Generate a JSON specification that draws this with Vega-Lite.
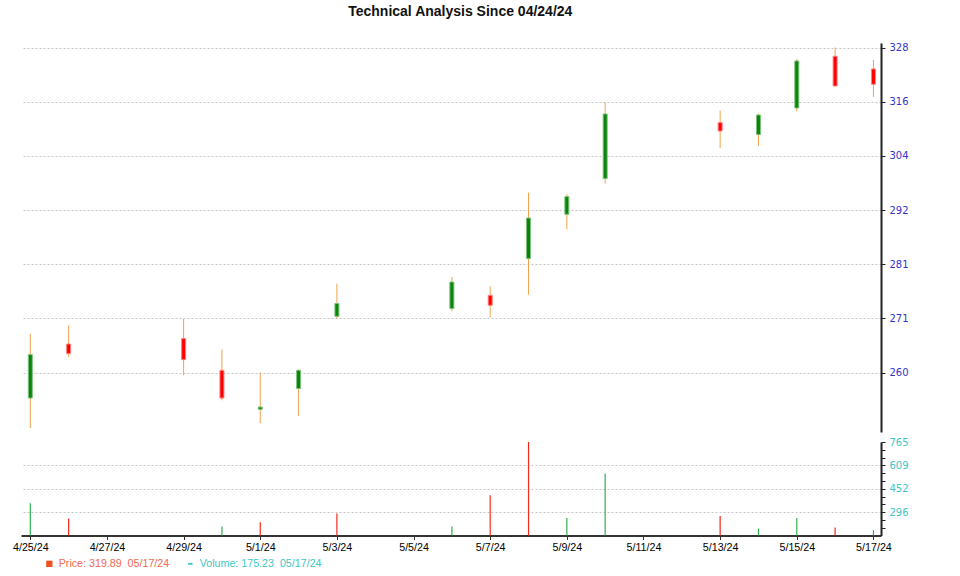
{
  "$schema": "https://vega.github.io/schema/vega-lite/v6.json",
  "padding": {"left": 12, "top": 4, "right": 0, "bottom": 0},
  "background": "white",
  "title": {"text": "Technical Analysis Since 04/24/24", "font": "Liberation Sans", "fontSize": 14, "fontWeight": "bold", "color": "#111111", "anchor": "middle", "offset": 24},
  "datasets": {
    "ohlc": [
      {"date": "2024-04-25", "open": 255.61, "high": 267.66, "low": 250.19, "close": 263.67, "volume": 356, "vdir": "up"},
      {"date": "2024-04-26", "open": 265.68, "high": 269.2, "low": 263.22, "close": 263.86, "volume": 253, "vdir": "down"},
      {"date": "2024-04-29", "open": 266.71, "high": 270.47, "low": 259.8, "close": 262.73, "volume": 140, "vdir": "down"},
      {"date": "2024-04-30", "open": 260.73, "high": 264.62, "low": 255.2, "close": 255.61, "volume": 200, "vdir": "up"},
      {"date": "2024-05-01", "open": 253.56, "high": 260.3, "low": 251.08, "close": 253.98, "volume": 228, "vdir": "down"},
      {"date": "2024-05-02", "open": 257.34, "high": 260.91, "low": 252.35, "close": 260.73, "volume": 140, "vdir": "up"},
      {"date": "2024-05-03", "open": 270.99, "high": 277.4, "low": 270.47, "close": 273.47, "volume": 287, "vdir": "down"},
      {"date": "2024-05-06", "open": 272.49, "high": 278.71, "low": 272.02, "close": 277.72, "volume": 200, "vdir": "up"},
      {"date": "2024-05-07", "open": 275.09, "high": 276.87, "low": 270.74, "close": 273.13, "volume": 409, "vdir": "down"},
      {"date": "2024-05-08", "open": 282.4, "high": 296.05, "low": 275.23, "close": 290.72, "volume": 765, "vdir": "down"},
      {"date": "2024-05-09", "open": 291.49, "high": 295.69, "low": 288.38, "close": 295.21, "volume": 257, "vdir": "up"},
      {"date": "2024-05-10", "open": 299.03, "high": 315.8, "low": 297.97, "close": 313.17, "volume": 555, "vdir": "up"},
      {"date": "2024-05-13", "open": 311.25, "high": 313.93, "low": 305.64, "close": 309.38, "volume": 271, "vdir": "down"},
      {"date": "2024-05-14", "open": 308.59, "high": 313.26, "low": 306.08, "close": 312.94, "volume": 186, "vdir": "up"},
      {"date": "2024-05-15", "open": 314.51, "high": 325.73, "low": 313.77, "close": 325.26, "volume": 257, "vdir": "up"},
      {"date": "2024-05-16", "open": 326.36, "high": 328.4, "low": 319.45, "close": 319.5, "volume": 193, "vdir": "down"},
      {"date": "2024-05-17", "open": 323.41, "high": 325.5, "low": 317.0, "close": 319.89, "volume": 175.23, "vdir": "up"}
    ]
  },
  "spacing": 10,
  "bounds": "flush",
  "vconcat": [
    {
      "width": 860,
      "height": 389,
      "data": {"name": "ohlc"},
      "encoding": {
        "x": {"field": "date", "type": "temporal",
          "scale": {"type": "utc", "padding": 0, "domain": [{"year": 2024, "month": 4, "date": 24, "hours": 18, "minutes": 10, "utc": true}, {"year": 2024, "month": 5, "date": 17, "hours": 4, "minutes": 44, "utc": true}]},
          "axis": null}
      },
      "layer": [
        {
          "mark": {"type": "rule", "color": "#f2a24e", "strokeWidth": 1},
          "encoding": {
            "y": {"field": "low", "type": "quantitative",
              "scale": {"type": "log", "domain": [249.48, 329.47], "nice": false, "zero": false},
              "axis": {"orient": "right", "title": null, "values": [260.3, 270.58, 281.27, 292.38, 303.93, 315.94, 328.4], "format": ".0f",
                "grid": true, "gridDash": [2, 2], "gridColor": "#c4c4c4", "gridWidth": 1,
                "domainColor": "#222222", "domainWidth": 2, "tickColor": "#222222", "tickSize": 4, "tickWidth": 1,
                "labelColor": "#3333cc", "labelFont": "DejaVu Sans", "labelFontSize": 10, "labelPadding": 4, "labelOverlap": false}},
            "y2": {"field": "high"}
          }
        },
        {
          "mark": {"type": "bar", "width": 4, "strokeWidth": 1},
          "encoding": {
            "y": {"field": "open", "type": "quantitative", "axis": {"title": null}},
            "y2": {"field": "close"},
            "fill": {"condition": {"test": "datum.close >= datum.open", "value": "#0a840a"}, "value": "#ff0000"},
            "stroke": {"condition": {"test": "datum.close >= datum.open", "value": "#7cc27c"}, "value": "#ff8080"}
          }
        }
      ]
    },
    {
      "width": 860,
      "height": 93.5,
      "layer": [
        {
          "data": {"name": "ohlc"},
          "mark": {"type": "rule", "strokeWidth": 1.2},
          "encoding": {
            "x": {"field": "date", "type": "temporal",
              "scale": {"type": "utc", "padding": 0, "domain": [{"year": 2024, "month": 4, "date": 24, "hours": 18, "minutes": 10, "utc": true}, {"year": 2024, "month": 5, "date": 17, "hours": 4, "minutes": 44, "utc": true}]},
              "axis": {"title": null, "format": "%-m/%-d/%y", "grid": false,
                "values": [
                  {"year": 2024, "month": 4, "date": 25, "utc": true},
                  {"year": 2024, "month": 4, "date": 27, "utc": true},
                  {"year": 2024, "month": 4, "date": 29, "utc": true},
                  {"year": 2024, "month": 5, "date": 1, "utc": true},
                  {"year": 2024, "month": 5, "date": 3, "utc": true},
                  {"year": 2024, "month": 5, "date": 5, "utc": true},
                  {"year": 2024, "month": 5, "date": 7, "utc": true},
                  {"year": 2024, "month": 5, "date": 9, "utc": true},
                  {"year": 2024, "month": 5, "date": 11, "utc": true},
                  {"year": 2024, "month": 5, "date": 13, "utc": true},
                  {"year": 2024, "month": 5, "date": 15, "utc": true},
                  {"year": 2024, "month": 5, "date": 17, "utc": true}
                ],
                "domainColor": "#333333", "domainWidth": 2, "tickColor": "#333333", "tickSize": 4,
                "labelFont": "Liberation Sans", "labelFontSize": 10.7, "labelColor": "#000000", "labelPadding": 3,
                "labelOverlap": false, "labelFlush": false}},
            "y": {"field": "volume", "type": "quantitative",
              "scale": {"domain": [140, 765], "nice": false, "zero": false},
              "axis": {"orient": "right", "title": null,
                "values": [192.08, 244.17, 296.25, 348.33, 400.42, 452.4, 504.58, 556.67, 608.75, 660.83, 712.92, 765],
                "labelExpr": "(round(datum.value) == 296 || round(datum.value) == 452 || round(datum.value) == 609 || round(datum.value) == 765) ? format(datum.value, '.0f') : ''",
                "grid": true, "gridDash": [2, 2], "gridColor": "#c4c4c4",
                "gridOpacity": {"condition": {"test": "round(datum.value) == 296 || round(datum.value) == 452 || round(datum.value) == 609", "value": 1}, "value": 0},
                "domainColor": "#222222", "domainWidth": 2, "tickColor": "#222222", "tickSize": 4,
                "labelColor": "#3ec6c6", "labelFont": "DejaVu Sans", "labelFontSize": 10, "labelPadding": 4, "labelOverlap": false}},
            "y2": {"datum": 140},
            "color": {"condition": {"test": "datum.vdir === 'up'", "value": "#2fb050"}, "value": "#f5281a"}
          }
        },
        {
          "data": {"values": [{"s": "Price: 319.89\u00a0 05/17/24"}, {"s": "Volume: 175.23\u00a0 05/17/24"}]},
          "mark": {"type": "square", "opacity": 0},
          "encoding": {
            "color": {"field": "s", "type": "nominal",
              "scale": {"domain": ["Price: 319.89\u00a0 05/17/24", "Volume: 175.23\u00a0 05/17/24"], "range": ["#f0501e", "#3cc8c8"]},
              "legend": {"title": null, "orient": "none", "legendX": 23, "legendY": 515, "direction": "horizontal",
                "padding": 0, "symbolSize": 40, "symbolOpacity": 1, "symbolStrokeWidth": 0,
                "labelFont": "Liberation Sans", "labelFontSize": 10.7, "labelOffset": 4, "columnPadding": 15,
                "encode": {
                  "labels": {"update": {"fill": {"signal": "indexof(datum.value, 'Price') === 0 ? '#f2694c' : '#3ec6c6'"}}},
                  "symbols": {"update": {"shape": {"signal": "indexof(datum.value, 'Price') === 0 ? 'square' : 'M-0.7,-0.3H0.7V0.3H-0.7Z'"}}}
                }}}
          }
        }
      ]
    }
  ],
  "config": {"view": {"stroke": null}, "font": "Liberation Sans"}
}
